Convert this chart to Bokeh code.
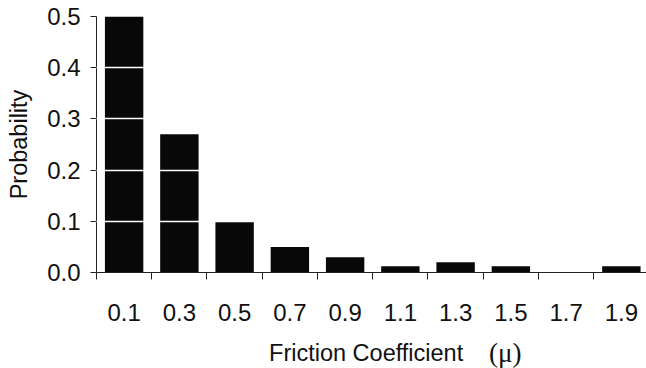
from bokeh.plotting import figure
from bokeh.models import FixedTicker, Range1d
from bokeh.layouts import column
from bokeh.core.properties import value
from bokeh.embed import file_html
from bokeh.resources import INLINE

# data
categories = ["0.1", "0.3", "0.5", "0.7", "0.9", "1.1", "1.3", "1.5", "1.7", "1.9"]
probability = [0.5, 0.27, 0.1, 0.05, 0.03, 0.012, 0.02, 0.012, 0.0, 0.012]
y_tick_labels = ["0.0", "0.1", "0.2", "0.3", "0.4", "0.5"]
x_title = "Friction Coefficient"
x_symbol = "(\u03bc)"
y_title = "Probability"

centers = [float(c) for c in categories]
bin_w = 0.2
bounds = [c - bin_w / 2 for c in centers]
y_ticks = [float(s) for s in y_tick_labels]

FONT = "Liberation Sans"
W = 646
LEFT = 96
xr = Range1d(0, 1.991)

p = figure(width=W, height=331, output_backend="svg", toolbar_location=None,
           x_range=xr, y_range=Range1d(0, 0.5),
           min_border_left=LEFT, min_border_right=0, min_border_top=16,
           min_border_bottom=59)
p.outline_line_color = None
p.background_fill_color = "white"

p.vbar(x=centers, top=probability, width=bin_w * 0.695, bottom=0,
       fill_color="#080808", line_color=None)

# grid: white lines over bars
p.xgrid.visible = False
p.ygrid.ticker = FixedTicker(ticks=y_ticks[1:-1])
p.ygrid.grid_line_color = "white"
p.ygrid.grid_line_width = 1.5
p.ygrid.level = "overlay"

# x axis
xa = p.xaxis[0]
xa.ticker = FixedTicker(ticks=centers, minor_ticks=bounds)
xa.major_label_overrides = {c: s for c, s in zip(centers, categories)}
xa.major_tick_out = 0
xa.major_tick_in = 0
xa.minor_tick_out = 7
xa.minor_tick_in = 0
xa.minor_tick_line_color = "#222222"
xa.axis_line_color = "#222222"
xa.major_label_standoff = 24
xa.major_label_text_font = FONT
xa.major_label_text_font_size = "24px"
xa.major_label_text_color = "#111111"

# y axis
ya = p.yaxis[0]
ya.ticker = FixedTicker(ticks=y_ticks)
ya.major_label_overrides = {v: s for v, s in zip(y_ticks, y_tick_labels)}
ya.major_tick_out = 6
ya.major_tick_in = 0
ya.minor_tick_out = 0
ya.minor_tick_in = 0
ya.major_tick_line_color = "#222222"
ya.axis_line_color = "#222222"
ya.major_label_standoff = 10
ya.major_label_text_font = FONT
ya.major_label_text_font_size = "24px"
ya.major_label_text_color = "#111111"
ya.axis_label = y_title
ya.axis_label_text_font = FONT
ya.axis_label_text_font_size = "23.5px"
ya.axis_label_text_font_style = "normal"
ya.axis_label_text_color = "#111111"
ya.axis_label_standoff = 12

# x title strip (two fonts: sans title + serif symbol)
t = figure(width=W, height=37, output_backend="svg", toolbar_location=None,
           x_range=xr, y_range=Range1d(0, 1),
           min_border_left=LEFT, min_border_right=0, min_border_top=0,
           min_border_bottom=0)
t.axis.visible = False
t.grid.visible = False
t.outline_line_color = None
t.text(x=[0.976], y=[0.42], text=[x_title], text_align="center",
       text_baseline="middle", text_font=value(FONT), text_font_size="23.5px",
       text_color="#111111")
t.text(x=[1.48], y=[0.42], text=[x_symbol], text_align="center",
       text_baseline="middle", text_font=value("Liberation Serif"),
       text_font_size="27px", text_color="#111111")

layout = column(p, t, spacing=0)
open("out.html", "w").write(file_html(layout, INLINE))
